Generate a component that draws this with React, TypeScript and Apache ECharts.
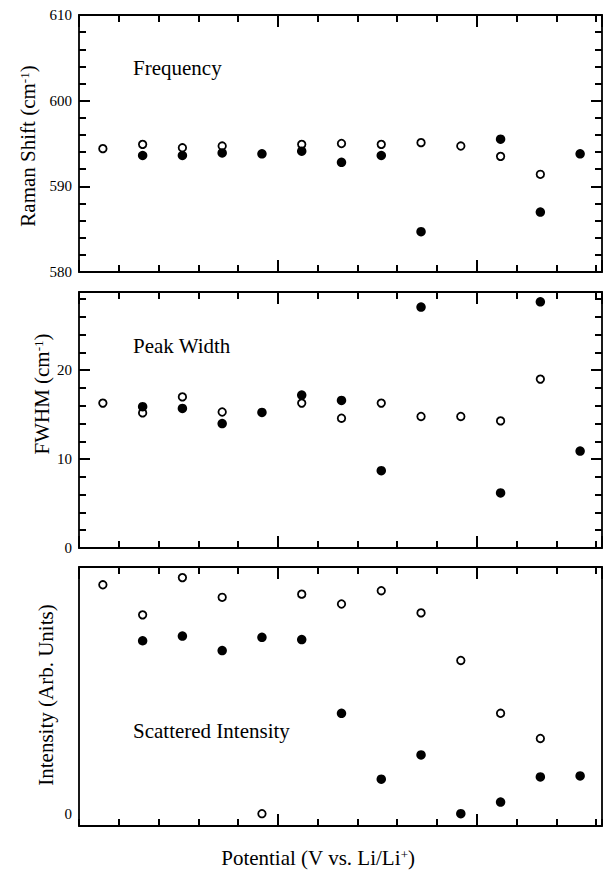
import React, { useEffect, useRef } from "react";
import * as echarts from "echarts";

// ---- data ----
const potentials = [3.1, 3.2, 3.3, 3.4, 3.5, 3.6, 3.7, 3.8, 3.9, 4.0, 4.1, 4.2, 4.3];
const freqOpen = [594.4, 594.9, 594.5, 594.7, null, 594.9, 595.0, 594.9, 595.1, 594.7, 593.5, 591.4, null];
const freqFilled = [null, 593.6, 593.6, 593.9, 593.8, 594.1, 592.8, 593.6, 584.7, null, 595.5, 587.0, 593.8];
const fwhmOpen = [16.3, 15.2, 17.0, 15.3, null, 16.3, 14.6, 16.3, 14.8, 14.8, 14.3, 19.0, null];
const fwhmFilled = [null, 15.9, 15.7, 14.0, 15.25, 17.2, 16.6, 8.7, 27.1, null, 6.2, 27.7, 10.9];
const intOpen = [92.8, 80.6, 95.7, 87.7, 0, 89.0, 85.0, 90.4, 81.4, 62.1, 40.7, 30.5, null];
const intFilled = [null, 70.1, 72.0, 66.1, 71.5, 70.6, 40.7, 14.0, 23.8, 0, 4.7, 14.9, 15.3];

const xMajorTicks = [3.5, 4.0];
const xTickLabels = ["3.5", "4"];
const freqMajor = [580, 590, 600, 610];
const fwhmMajor = [0, 10, 20];
const intMajor = [0];

const FONT = '"Liberation Serif", "Times New Roman", serif';
const X_MIN = 3.04;
const X_MAX = 4.355;

const panels = [
  { top: 15, height: 257, min: 580, max: 610, major: freqMajor, open: freqOpen, filled: freqFilled, yTicks: true },
  { top: 292, height: 256, min: 0, max: 28.8, major: fwhmMajor, open: fwhmOpen, filled: fwhmFilled, yTicks: true },
  { top: 567, height: 259, min: -5, max: 100, major: intMajor, open: intOpen, filled: intFilled, yTicks: false },
];

const pairs = (vals: (number | null)[]) =>
  potentials.map((x, i) => [x, vals[i]]).filter((p) => p[1] !== null);

const isIn = (list: number[], v: number) => list.some((t) => Math.abs(t - v) < 1e-6);

export default function App() {
  const ref = useRef<HTMLDivElement>(null);
  useEffect(() => {
    if (!ref.current) return;
    const chart = echarts.init(ref.current, null, { renderer: "svg" });
    const grids: any[] = [];
    const xAxes: any[] = [];
    const yAxes: any[] = [];
    const series: any[] = [];
    const tickLine = { color: "#000", width: 2 };
    panels.forEach((p, gi) => {
      grids.push({ left: 79, right: 7, top: p.top, height: p.height, containLabel: false });
      const isLast = gi === panels.length - 1;
      const mkX = (pos: string, interval: number, len: number, showLine: boolean, labels: boolean) => ({
        type: "value",
        gridIndex: gi,
        position: pos,
        min: X_MIN,
        max: X_MAX,
        interval,
        axisLine: { show: showLine, onZero: false, lineStyle: { color: "#000", width: 1.8 } },
        axisTick: { show: true, inside: true, length: len, lineStyle: tickLine },
        axisLabel: labels
          ? {
              show: true,
              showMinLabel: false,
              showMaxLabel: false,
              formatter: (v: number) => {
                const k = xMajorTicks.findIndex((t) => Math.abs(t - v) < 1e-6);
                return k >= 0 ? xTickLabels[k] : "";
              },
              fontSize: 13,
              fontFamily: FONT,
              color: "#000",
              margin: 6,
            }
          : { show: false },
        splitLine: { show: false },
      });
      xAxes.push(mkX("bottom", 0.1, 7, true, false));
      xAxes.push(mkX("bottom", 0.5, 12, false, isLast));
      xAxes.push(mkX("top", 0.1, 7, true, false));
      xAxes.push(mkX("top", 0.5, 12, false, false));
      const majorInterval = p.major.length > 1 ? p.major[1] - p.major[0] : 100;
      const mkY = (pos: string, interval: number, len: number, showLine: boolean, labels: boolean, ticks: boolean) => ({
        type: "value",
        gridIndex: gi,
        position: pos,
        min: p.min,
        max: p.max,
        interval,
        axisLine: { show: showLine, onZero: false, lineStyle: { color: "#000", width: 1.8 } },
        axisTick: { show: ticks, inside: true, length: len, lineStyle: tickLine },
        axisLabel: labels
          ? {
              show: true,
              formatter: (v: number) => (isIn(p.major, v) ? String(v) : ""),
              fontSize: 15,
              fontFamily: FONT,
              color: "#000",
              margin: 7,
            }
          : { show: false },
        splitLine: { show: false },
      });
      const minorInterval = p.yTicks ? 2 : 5;
      const majInt = p.yTicks ? majorInterval : 5;
      yAxes.push(mkY("left", majInt, 11, true, true, p.yTicks));
      yAxes.push(mkY("left", minorInterval, 7, false, false, p.yTicks));
      yAxes.push(mkY("right", majInt, 11, true, false, p.yTicks));
      yAxes.push(mkY("right", minorInterval, 7, false, false, p.yTicks));
      const xi = gi * 4;
      const yi = gi * 4;
      series.push({
        type: "scatter",
        xAxisIndex: xi,
        yAxisIndex: yi,
        data: pairs(p.open),
        symbol: "circle",
        symbolSize: 7.5,
        itemStyle: { color: "#fff", borderColor: "#000", borderWidth: 1.8, opacity: 1 },
        z: 3,
      });
      series.push({
        type: "scatter",
        xAxisIndex: xi,
        yAxisIndex: yi,
        data: pairs(p.filled),
        symbol: "circle",
        symbolSize: 9.5,
        itemStyle: { color: "#000", opacity: 1 },
        z: 4,
      });
    });
    const txt = (x: number, y: number, text: string, align = "left", rot = 0) => ({
      type: "text",
      x,
      y,
      rotation: rot,
      style: {
        text,
        fontSize: 21,
        fontFamily: FONT,
        fill: "#000",
        align,
        verticalAlign: "middle",
        rich: {
          sup: { fontSize: 13, fontFamily: FONT, fill: "#000", verticalAlign: "top" },
        },
      },
    });
    chart.setOption({
      animation: false,
      backgroundColor: "#fff",
      grid: grids,
      xAxis: xAxes,
      yAxis: yAxes,
      series,
      graphic: [
        txt(133, 68, "Frequency"),
        txt(133, 346, "Peak Width"),
        txt(133, 731, "Scattered Intensity"),
        txt(28, 146, "Raman Shift (cm{sup|-1})", "center", Math.PI / 2),
        txt(42, 394, "FWHM (cm{sup|-1})", "center", Math.PI / 2),
        txt(46, 695, "Intensity (Arb. Units)", "center", Math.PI / 2),
        txt(318, 858, "Potential (V vs. Li/Li{sup|+})", "center"),
      ],
    });
    return () => chart.dispose();
  }, []);
  return (
    <div
      ref={ref}
      style={{ position: "absolute", left: 0, top: 0, width: 609, height: 874, background: "#fff" }}
    />
  );
}
